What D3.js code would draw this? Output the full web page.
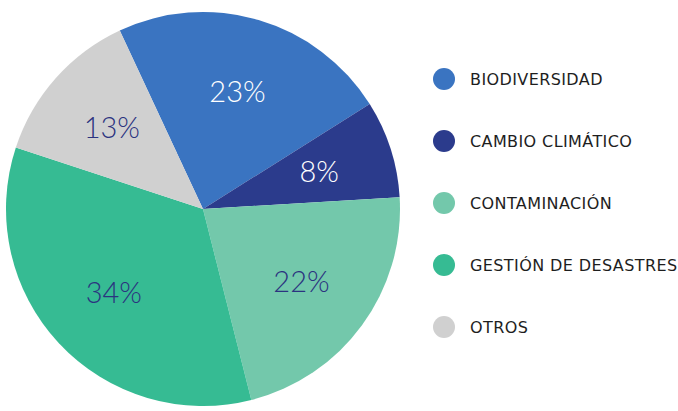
<!DOCTYPE html>
<html>
<head>
<meta charset="utf-8">
<script src="https://cdn.jsdelivr.net/npm/d3@7"></script>
<style>
  body { margin: 0; background: #fff; }
  svg { display: block; }
</style>
</head>
<body>
<svg width="678" height="411"></svg>
<script>
// data
var categories = ["BIODIVERSIDAD", "CAMBIO CLIMÁTICO", "CONTAMINACIÓN", "GESTIÓN DE DESASTRES", "OTROS"];
var shares = [23, 8, 22, 34, 13];
var colors = ["#3a74c1", "#2b3b8c", "#73c8ab", "#36bb93", "#d0d0d0"];
var labelColors = ["#ffffff", "#ffffff", "#2b3380", "#2b3380", "#2b3380"];

var svg = d3.select("svg");
var cx = 203, cy = 209, radius = 197;

var pie = d3.pie()
    .sort(null)
    .value(function(d) { return d; })
    .startAngle(-25 * Math.PI / 180)
    .endAngle(335 * Math.PI / 180);

var arc = d3.arc().innerRadius(0).outerRadius(radius);
var labelArc = d3.arc().innerRadius(122).outerRadius(122);

var arcs = pie(shares);

var g = svg.append("g").attr("transform", "translate(" + cx + "," + cy + ")");

g.selectAll("path")
    .data(arcs)
    .enter().append("path")
    .attr("d", arc)
    .attr("fill", function(d, i) { return colors[i]; });

g.selectAll("text")
    .data(arcs)
    .enter().append("text")
    .attr("transform", function(d) { return "translate(" + labelArc.centroid(d) + ")"; })
    .attr("text-anchor", "middle")
    .attr("dy", "0.36em")
    .style("font-family", "Lato, 'Open Sans', sans-serif")
    .style("font-weight", 300)
    .style("font-size", "29px")
    .style("fill", function(d, i) { return labelColors[i]; })
    .text(function(d) { return d.data + "%"; });

// legend
var legend = svg.selectAll(".legend")
    .data(categories)
    .enter().append("g")
    .attr("class", "legend")
    .attr("transform", function(d, i) { return "translate(444," + (79 + 62 * i) + ")"; });

legend.append("circle")
    .attr("r", 11)
    .style("fill", function(d, i) { return colors[i]; });

legend.append("text")
    .attr("x", 26)
    .attr("dy", "0.36em")
    .style("font-family", "'DejaVu Sans', sans-serif")
    .style("font-size", "16px")
    .style("letter-spacing", "0.4px")
    .style("fill", "#1e1e1e")
    .text(function(d) { return d; });
</script>
</body>
</html>
